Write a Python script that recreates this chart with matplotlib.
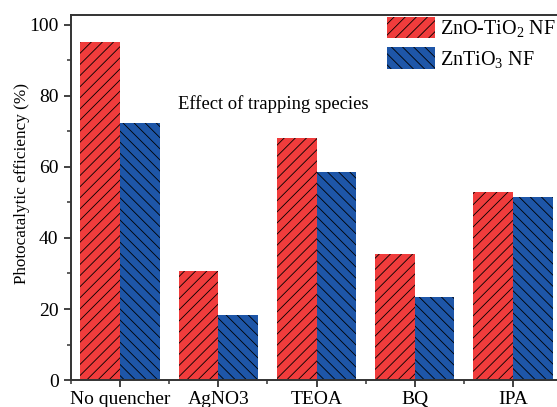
import matplotlib
matplotlib.use("Agg")
import matplotlib.pyplot as plt
from matplotlib.patches import Patch
from matplotlib.ticker import MultipleLocator
import numpy as np

categories = ["No quencher", "AgNO3", "TEOA", "BQ", "IPA"]
zno_tio2 = [95.3, 30.7, 68.1, 35.5, 52.9]
zntio3 = [72.3, 18.3, 58.5, 23.5, 51.5]
series_labels = ["ZnO-TiO$_2$ NF", "ZnTiO$_3$ NF"]

red = "#F03C3C"
blue = "#1E56A8"

plt.rcParams["font.family"] = ["Liberation Serif", "DejaVu Serif"]
plt.rcParams["mathtext.fontset"] = "custom"
plt.rcParams["mathtext.rm"] = "Liberation Serif"
plt.rcParams["mathtext.it"] = "Liberation Serif"
plt.rcParams["hatch.linewidth"] = 0.6

fig = plt.figure(figsize=(5.57, 4.07), dpi=100)
ax = fig.add_axes([0.1275, 0.0663, 0.8815, 0.8968])

x = np.arange(len(categories))
w = 0.405
ax.bar(x - w / 2, zno_tio2, w, color=red, edgecolor="black", linewidth=0, hatch="///")
ax.bar(x + w / 2, zntio3, w, color=blue, edgecolor="black", linewidth=0, hatch="\\\\\\")

ax.set_xlim(-0.5, 4.5)
ax.set_ylim(0, 102.8)
ax.set_xticks(x)
ax.set_xticklabels(categories, fontsize=14)
ax.xaxis.set_minor_locator(MultipleLocator(1.0, offset=0.5))
ax.yaxis.set_major_locator(MultipleLocator(20))
ax.yaxis.set_minor_locator(MultipleLocator(10))
ax.tick_params(axis="y", labelsize=14, pad=4)
ax.tick_params(which="major", direction="out", length=5, width=1.3, color="#333333")
ax.tick_params(which="minor", direction="out", length=3, width=1.1, color="#333333")
ax.tick_params(axis="x", pad=3)

for side in ("left", "bottom", "top"):
    ax.spines[side].set_linewidth(1.4)
    ax.spines[side].set_color("#333333")
ax.spines["right"].set_visible(False)

fig.text(0.04, 0.548, "Photocatalytic efficiency (%)", rotation=90,
         ha="center", va="center", fontsize=12.3)
ax.text(178 / 557, 1 - 104 / 407, "Effect of trapping species",
        transform=fig.transFigure, fontsize=13.4, ha="left", va="center")

handles = [Patch(facecolor=red, edgecolor="black", linewidth=0, hatch="///"),
           Patch(facecolor=blue, edgecolor="black", linewidth=0, hatch="\\\\\\")]
fig.legend(handles, series_labels, loc="upper left",
           bbox_to_anchor=(387 / 557, 1 - 17 / 407), frameon=False,
           fontsize=14.5, handlelength=2.36, handleheight=1.25,
           handletextpad=0.25, labelspacing=0.4, borderaxespad=0,
           borderpad=0)

fig.savefig("out.png", dpi=100)
